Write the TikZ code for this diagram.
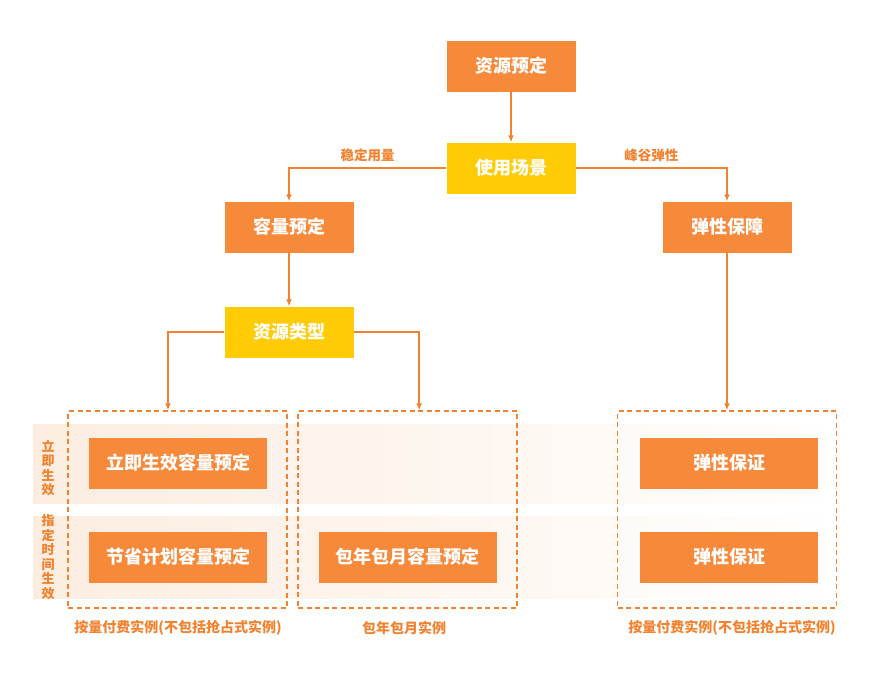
\documentclass[tikz,border=0pt]{standalone}
\usepackage{fontspec}
\newfontfamily\cjk{Noto Sans CJK SC}
\usetikzlibrary{arrows.meta, positioning, calc}
\definecolor{boxorange}{HTML}{F7893A}
\definecolor{boxyellow}{HTML}{FFCB05}
\definecolor{lineorange}{HTML}{F2822F}
\definecolor{bandpeach}{HTML}{FCEDE0}

\begin{document}
\begin{tikzpicture}[
    x=1pt, y=-1pt,
    every node/.style={font=\cjk},
    block/.style={fill=boxorange, text=white, inner sep=0pt, minimum width=129pt, minimum height=51pt, font=\cjk\bfseries\fontsize{18}{20}\selectfont},
    choice/.style={block, fill=boxyellow},
    wideblock/.style={block, minimum width=178pt},
    frame/.style={draw=lineorange, line width=1.5pt, dash pattern=on 5pt off 3.5pt, minimum width=219pt, minimum height=197pt, inner sep=0pt},
    tag/.style={text=lineorange, font=\cjk\bfseries\fontsize{13.5}{15}\selectfont, inner sep=1pt},
    sidetag/.style={tag, align=center, font=\cjk\bfseries\fontsize{13}{14.5}\selectfont},
    arrow/.style={-{Latex[length=7pt, width=6pt]}, draw=lineorange, line width=1.8pt}
  ]
    \useasboundingbox (0,0) rectangle (886,673);

    % background bands
    \shade[left color=bandpeach, right color=white] (33,424) rectangle (845,503);
    \shade[left color=bandpeach, right color=white] (33,516) rectangle (845,598);
    \node[sidetag] (now)   at (48,468) {立\\即\\生\\效};
    \node[sidetag] (timed) at (48,557) {指\\定\\时\\间\\生\\效};

    % decision tree
    \node[block]  (res)     at (511,66)  {资源预定};
    \node[choice] (scene)   at (511,168) {使用场景};
    \node[block]  (cap)     at (289,227) {容量预定};
    \node[block]  (elastic) at (727,227) {弹性保障};
    \node[choice] (type)    at (289,332) {资源类型};

    % dashed groups
    \node[frame] (frameL) at (177.5,509.5) {};
    \node[frame] (frameM) at (407.5,509.5) {};
    \node[frame] (frameR) at (727,509.5) {};
    \coordinate (inL) at ($(frameL.north west)!0.457!(frameL.north east)$);
    \coordinate (inM) at ($(frameM.north west)!0.553!(frameM.north east)$);

    \node[wideblock] (instant) at (178,463) {立即生效容量预定};
    \node[wideblock] (saving)  at (178,557) {节省计划容量预定};
    \node[wideblock] (yearly)  at (407.5,557) {包年包月容量预定};
    \node[wideblock] (guar1)   at (729,463) {弹性保证};
    \node[wideblock] (guar2)   at (729,557) {弹性保证};

    \node[tag, font=\cjk\bfseries\fontsize{14}{16}\selectfont] (payL) at (178,628) {按量付费实例(不包括抢占式实例)};
    \node[tag, font=\cjk\bfseries\fontsize{14}{16}\selectfont] (payM) at (404,628) {包年包月实例};
    \node[tag, font=\cjk\bfseries\fontsize{14}{16}\selectfont] (payR) at (732,628) {按量付费实例(不包括抢占式实例)};

    % connectors
    \draw[arrow] (res) -- (scene);
    \draw[arrow] (scene.west) -| node[tag, pos=0.25, above=4pt] (steady) {稳定用量} (cap.north);
    \draw[arrow] (scene.east) -| node[tag, pos=0.25, above=4pt] (peak) {峰谷弹性} (elastic.north);
    \draw[arrow] (cap) -- (type);
    \draw[arrow] (type.west) -| (inL);
    \draw[arrow] (type.east) -| (inM);
    \draw[arrow] (elastic) -- (frameR.north);

  \end{tikzpicture}
\end{document}
